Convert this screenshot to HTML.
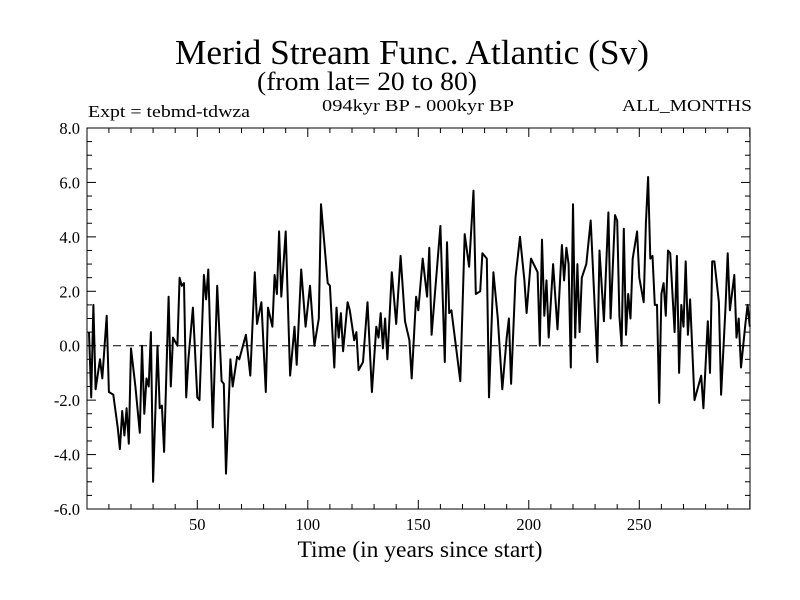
<!DOCTYPE html>
<html><head><meta charset="utf-8"><style>
body{margin:0;background:#fff;}
svg{display:block;font-family:"Liberation Serif",serif;}
</style></head><body>
<svg id="chart" width="800" height="600">
<text x="412" y="64" font-size="35" text-anchor="middle" textLength="474" lengthAdjust="spacingAndGlyphs">Merid Stream Func. Atlantic (Sv)</text>
<text x="367" y="90" font-size="26" text-anchor="middle" textLength="220" lengthAdjust="spacingAndGlyphs">(from lat= 20 to 80)</text>
<text x="88" y="117" font-size="17" textLength="162" lengthAdjust="spacingAndGlyphs">Expt = tebmd-tdwza</text>
<text x="418" y="111" font-size="17" text-anchor="middle" textLength="192" lengthAdjust="spacingAndGlyphs">094kyr BP - 000kyr BP</text>
<text x="752" y="111" font-size="17" text-anchor="end" textLength="130" lengthAdjust="spacingAndGlyphs">ALL_MONTHS</text>
<text x="420" y="557" font-size="23" text-anchor="middle" textLength="245" lengthAdjust="spacingAndGlyphs">Time (in years since start)</text>
<g id="axes"></g>
<g id="series"></g>
</svg>
<script>
const years=[1,2,3,4,6,7,9,10,12,14,15,16,17,18,19,20,22,24,25,26,27,28,29,30,32,33,34,35,37,38,39,41,42,43,44,45,46,48,50,51,53,54,55,57,59,61,62,63,65,66,68,69,72,74,76,77,79,81,82,84,85,86,87,88,90,92,94,95,97,99,101,103,105,106,109,110,112,113,114,115,116,118,119,121,122,123,125,127,129,131,132,133,134,135,136,138,140,142,144,146,147,149,150,152,154,155,156,160,162,163,164,165,169,171,173,175,176,178,179,181,182,184,186,188,190,191,192,194,196,198,199,201,204,205,206,207,208,209,211,213,215,216,217,218,219,220,221,222,223,224,226,228,231,232,234,236,237,239,240,241,242,243,244,245,246,247,249,250,252,253,254,255,256,257,258,259,260,261,262,263,264,266,267,268,269,270,271,272,273,275,278,279,281,282,283,284,286,287,289,290,291,293,294,295,296,298,299,300];
const values=[0.5,-1.9,1.5,-1.6,-0.5,-1.2,1.1,-1.7,-1.8,-3.0,-3.8,-2.4,-3.3,-2.3,-3.6,-0.1,-1.5,-3.2,0.0,-2.5,-1.2,-1.5,0.5,-5.0,0.0,-2.3,-2.2,-3.9,1.8,-1.5,0.3,0.0,2.5,2.2,2.3,-1.9,-0.5,1.4,-1.9,-2.0,2.6,1.7,2.8,-3.0,2.2,-1.3,-1.4,-4.7,-0.5,-1.5,-0.4,-0.5,0.4,-1.1,2.7,0.8,1.6,-1.7,1.4,0.7,2.6,1.9,4.2,1.8,4.2,-1.1,0.7,-0.7,2.8,0.7,2.2,0.0,1.0,5.2,2.3,2.2,-0.8,1.4,0.3,1.2,-0.2,1.6,1.3,0.2,0.5,-0.9,-0.6,1.6,-1.7,0.7,0.3,1.2,-0.1,1.0,-0.5,2.7,0.8,3.3,0.9,0.2,-1.2,1.8,1.3,3.2,1.8,3.6,0.4,4.4,-0.6,3.8,1.2,1.3,-1.3,4.1,2.9,5.7,1.9,2.0,3.4,3.2,-1.9,2.7,1.0,-1.6,0.3,1.0,-1.4,2.5,4.0,2.4,1.2,3.2,2.7,0.0,3.9,1.1,2.4,0.3,3.0,0.6,3.7,2.4,3.6,3.0,-0.8,5.2,0.3,3.0,0.5,2.5,3.0,4.6,-0.6,3.5,0.9,4.9,1.0,4.8,4.6,1.1,0.0,4.3,0.4,1.9,1.0,3.2,4.2,2.5,1.6,4.5,6.2,3.2,3.3,1.5,1.5,-2.1,1.9,2.3,1.1,3.5,3.4,0.5,3.3,-1.0,1.5,0.7,3.1,0.4,1.7,-2.0,-1.1,-2.3,0.9,-1.0,3.1,3.1,1.6,-1.8,1.4,3.4,1.3,2.6,0.3,1.0,-0.8,0.8,1.5,0.7];
const yTickLabels=["-6.0","-4.0","-2.0","0.0","2.0","4.0","6.0","8.0"];
const xTickLabels=["50","100","150","200","250"];
const L=87,R=750,T=128,B=509;
function sx(yr){return 89+(yr-1)*2.21;}
function sy(v){return B-(v+6)*(B-T)/14;}
const NS="http://www.w3.org/2000/svg";
const axes=document.getElementById('axes'),series=document.getElementById('series');
function mk(tag,attrs,parent){const e=document.createElementNS(NS,tag);for(const k in attrs)e.setAttribute(k,attrs[k]);parent.appendChild(e);return e;}
const box=mk('rect',{x:L,y:T,width:R-L,height:B-T,fill:'none',stroke:'#000','stroke-width':1},axes);


for(let v=-6;v<=8.001;v+=0.5){
  const y=sy(v),major=Math.abs(v-Math.round(v/2)*2)<1e-6,len=major?9:5;
  mk('line',{x1:L,x2:L+len,y1:y,y2:y,stroke:'#000'},axes);
  mk('line',{x1:R,x2:R-len,y1:y,y2:y,stroke:'#000'},axes);
}
yTickLabels.forEach(s=>{
  const t=mk('text',{x:L-7,y:sy(parseFloat(s))+6,'font-size':16.5,'text-anchor':'end'},axes);
  t.textContent=s;
  
  
});
for(let yr=10;yr<=300;yr+=10){
  const x=sx(yr),len=yr%50===0?9:5;
  if(x>R)continue;
  mk('line',{x1:x,x2:x,y1:B,y2:B-len,stroke:'#000'},axes);
  mk('line',{x1:x,x2:x,y1:T,y2:T+len,stroke:'#000'},axes);
}
xTickLabels.forEach(s=>{
  const t=mk('text',{x:sx(parseFloat(s)),y:B+21,'font-size':16.5,'text-anchor':'middle'},axes);
  t.textContent=s;
  
  
});
const zl=mk('line',{x1:L,x2:R,y1:sy(0),y2:sy(0),stroke:'#000','stroke-dasharray':'8,5'},axes);


const pts=years.map((yr,i)=>sx(yr).toFixed(1)+','+sy(values[i]).toFixed(1)).join(' ');
const pl=mk('polyline',{points:pts,fill:'none',stroke:'#000','stroke-width':2,'stroke-linejoin':'round'},series);


</script>
</body></html>
